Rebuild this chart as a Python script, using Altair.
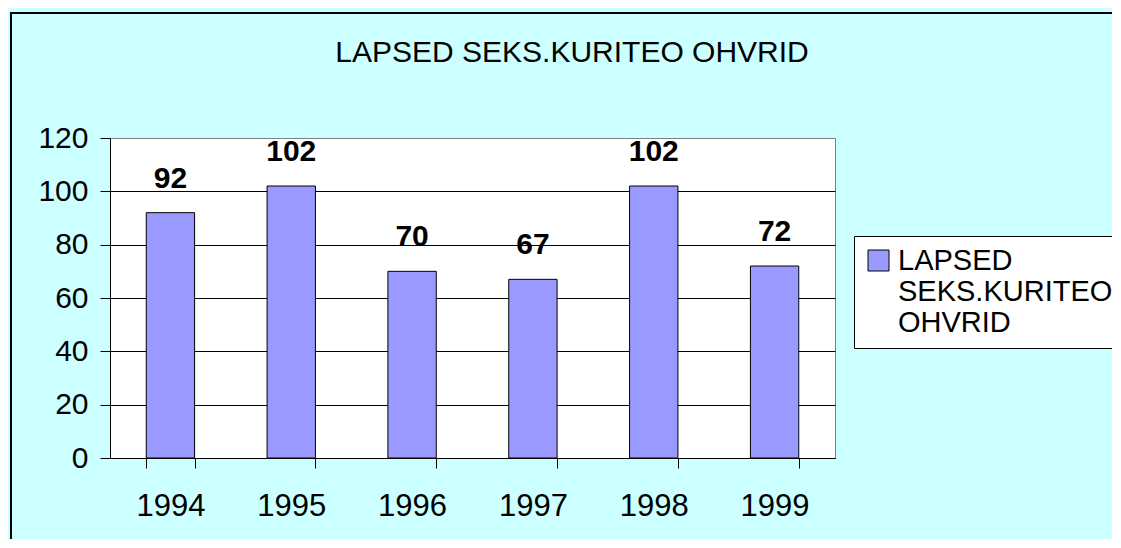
import altair as alt
import pandas as pd

years = ["1994", "1995", "1996", "1997", "1998", "1999"]
values = [92, 102, 70, 67, 102, 72]
series_name = "LAPSED SEKS.KURITEO OHVRID"
y_ticks = [0, 20, 40, 60, 80, 100, 120]

df = pd.DataFrame({"year": years, "value": values, "series": [series_name] * len(years)})

FONT = "Liberation Sans"
W, H = 725, 320

x_enc = alt.X(
    "year:N",
    sort=years,
    scale=alt.Scale(paddingInner=0.6, paddingOuter=0.3),
    axis=alt.Axis(
        title=None, labelAngle=0, labelFontSize=31, labelFont=FONT, labelColor="black",
        labelPadding=23, tickBand="extent", tickSize=10, tickColor="black",
        domainColor="black", grid=False,
    ),
)
y_enc = alt.Y(
    "value:Q",
    scale=alt.Scale(domain=[0, 120], nice=False),
    axis=alt.Axis(
        title=None, values=y_ticks, labelFontSize=30, labelFont=FONT, labelColor="black",
        labelPadding=12, tickSize=10, tickColor="black", domainColor="black",
        gridColor=alt.condition("datum.value == 120", alt.value("#808080"), alt.value("black")),
        gridOpacity=1,
    ),
)

base = alt.Chart(df)

bars = base.mark_bar(stroke="black", strokeWidth=1).encode(
    x=x_enc,
    y=y_enc,
    color=alt.Color(
        "series:N",
        scale=alt.Scale(range=["#9999FF"]),
        legend=alt.Legend(
            title="\u00a0", titleOrient="right", titlePadding=60, titleFontSize=10,
            orient="none", legendX=744, legendY=98,
            labelExpr="split(datum.label, ' ')",
            labelFontSize=29, labelFont=FONT, labelColor="black", labelLimit=400,
            symbolType="square", symbolSize=441, symbolStrokeColor="black",
            symbolStrokeWidth=1, fillColor="white", strokeColor="black",
            padding=10, labelOffset=5,
        ),
    ),
)

labels = base.mark_text(
    fontSize=30, font=FONT, fontWeight="bold", baseline="alphabetic", dy=-25, color="black"
).encode(x=alt.X("year:N", sort=years), y="value:Q", text="value:Q")

title = alt.Chart(alt.Data(values=[{"t": series_name}])).mark_text(
    fontSize=30, font=FONT, baseline="alphabetic", align="center", color="black"
).encode(x=alt.value(462), y=alt.value(-76), text="t:N")

border = alt.Chart(alt.Data(values=[{"a": 1}])).mark_rect(
    filled=False, stroke="black", strokeWidth=2
).encode(x=alt.value(-99), x2=alt.value(1150), y=alt.value(-125), y2=alt.value(600))

chart = alt.layer(bars, labels, title, border).properties(
    width=W, height=H,
    autosize=alt.AutoSizeParams(type="none"),
    padding={"left": 102, "top": 130, "right": 277, "bottom": 81},
    background="#CCFFFF",
).configure_view(
    fill="white", stroke="#808080", strokeWidth=1
)

chart.save("out.html", embed_options={"renderer": "svg", "actions": False})
